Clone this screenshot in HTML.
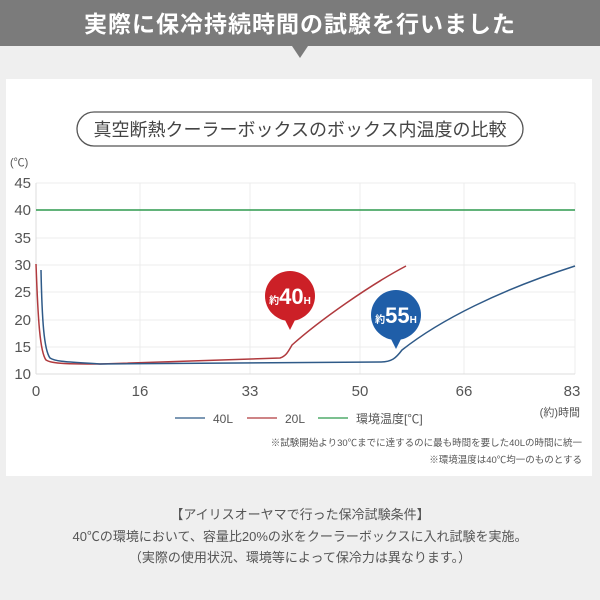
<!DOCTYPE html>
<html><head><meta charset="utf-8"><style>
body{margin:0;width:600px;height:600px;overflow:hidden;background:#efefef;font-family:"Liberation Sans","Noto Sans CJK JP",sans-serif;}
</style></head><body>
<svg width="600" height="600" xmlns="http://www.w3.org/2000/svg" style="position:absolute;left:0;top:0;font-family:'Liberation Sans','Noto Sans CJK JP',sans-serif">
<rect x="0" y="0" width="600" height="600" fill="#efefef"/>
<rect x="0" y="0" width="600" height="46" fill="#7b7b7b"/>
<polygon points="292,46 308,46 300,58" fill="#7b7b7b"/>
<text x="300" y="32" font-size="23" font-weight="bold" fill="#fff" text-anchor="middle" letter-spacing="1">実際に保冷持続時間の試験を行いました</text>
<rect x="6" y="79" width="586" height="397" fill="#fff"/>
<rect x="77" y="112" width="446" height="34" rx="17" fill="#fff" stroke="#555" stroke-width="1.3"/>
<text x="300" y="136" font-size="18" fill="#444" text-anchor="middle">真空断熱クーラーボックスのボックス内温度の比較</text>
<text x="10" y="166" font-size="11" fill="#555">(℃)</text>
<g stroke="#ececec" stroke-width="1">
<line x1="36" y1="183" x2="575" y2="183"/><line x1="36" y1="238" x2="575" y2="238"/><line x1="36" y1="265" x2="575" y2="265"/><line x1="36" y1="292" x2="575" y2="292"/><line x1="36" y1="320" x2="575" y2="320"/><line x1="36" y1="347" x2="575" y2="347"/>
<line x1="140" y1="183" x2="140" y2="374"/><line x1="250" y1="183" x2="250" y2="374"/><line x1="360" y1="183" x2="360" y2="374"/><line x1="464" y1="183" x2="464" y2="374"/><line x1="575" y1="183" x2="575" y2="374"/>
</g>
<line x1="36" y1="183" x2="36" y2="374" stroke="#ddd"/>
<line x1="36" y1="374" x2="575" y2="374" stroke="#ddd"/>
<g font-size="15" fill="#555" text-anchor="end">
<text x="31" y="188">45</text><text x="31" y="215">40</text><text x="31" y="243">35</text><text x="31" y="270">30</text><text x="31" y="297">25</text><text x="31" y="325">20</text><text x="31" y="352">15</text><text x="31" y="379">10</text>
</g>
<g font-size="15" fill="#555" text-anchor="middle">
<text x="36" y="396">0</text><text x="140" y="396">16</text><text x="250" y="396">33</text><text x="360" y="396">50</text><text x="464" y="396">66</text><text x="572" y="396">83</text>
</g>
<text x="580" y="416" font-size="11" fill="#555" text-anchor="end">(約)時間</text>
<line x1="36" y1="210" x2="575" y2="210" stroke="#2e9a4e" stroke-width="1.6"/>
<path d="M36,264 C38,320 40,352 46,360 C52,364 70,364 100,364 L280,358 C286,356 288,352 292,345 C320,320 370,285 406,266" fill="none" stroke="#b03a3e" stroke-width="1.5"/>
<path d="M41,270 C42,320 44,350 50,358 C56,362 70,362 100,364 L380,362 C392,362 396,358 402,350 C440,320 500,290 575,266" fill="none" stroke="#2f5a88" stroke-width="1.5"/>
<circle cx="290" cy="296" r="25" fill="#cc2027"/>
<polygon points="284,318 296,318 290,330" fill="#cc2027"/>
<text x="290" y="304" fill="#fff" text-anchor="middle" font-weight="bold"><tspan font-size="10">約</tspan><tspan font-size="22">40</tspan><tspan font-size="10">H</tspan></text>
<circle cx="396" cy="315" r="25" fill="#1f5ea8"/>
<polygon points="390,337 402,337 396,349" fill="#1f5ea8"/>
<text x="396" y="323" fill="#fff" text-anchor="middle" font-weight="bold"><tspan font-size="10">約</tspan><tspan font-size="22">55</tspan><tspan font-size="10">H</tspan></text>
<g font-size="12" fill="#555">
<line x1="175" y1="418" x2="205" y2="418" stroke="#2f5a88" stroke-width="1.3"/><text x="213" y="423">40L</text>
<line x1="247" y1="418" x2="277" y2="418" stroke="#b03a3e" stroke-width="1.3"/><text x="285" y="423">20L</text>
<line x1="318" y1="418" x2="348" y2="418" stroke="#2e9a4e" stroke-width="1.3"/><text x="356" y="423">環境温度[℃]</text>
</g>
<text x="582" y="446" font-size="9.5" fill="#555" text-anchor="end">※試験開始より30℃までに達するのに最も時間を要した40Lの時間に統一</text>
<text x="582" y="463" font-size="9.5" fill="#555" text-anchor="end">※環境温度は40℃均一のものとする</text>
<g font-size="13" fill="#555" text-anchor="middle">
<text x="300" y="519">【アイリスオーヤマで行った保冷試験条件】</text>
<text x="300" y="541">40℃の環境において、容量比20%の氷をクーラーボックスに入れ試験を実施。</text>
<text x="300" y="562">（実際の使用状況、環境等によって保冷力は異なります。）</text>
</g>
</svg>
</body></html>
